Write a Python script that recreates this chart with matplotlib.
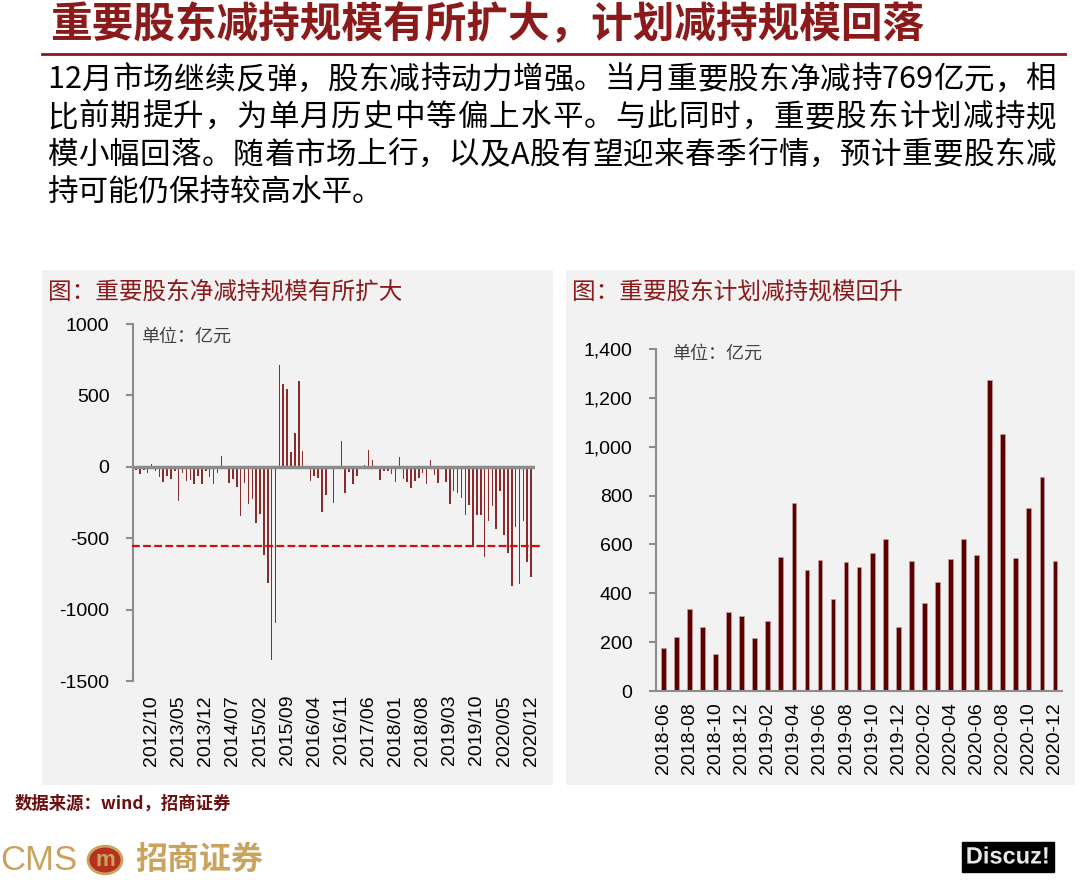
import matplotlib
matplotlib.use("Agg")
import matplotlib.pyplot as plt
from matplotlib.patches import Rectangle, Circle
from matplotlib.ticker import FuncFormatter
import matplotlib.patheffects as pe

plt.rcParams['font.family'] = ['Noto Sans CJK SC', 'DejaVu Sans']
plt.rcParams['axes.unicode_minus'] = False

# ---- data ----
# left: net reduction by key shareholders, monthly 2012/06 - 2020/12 (100 mn yuan)
net_values = [
    -23, -47, -19, -40, 19, -28, -70, -105, -65, -86,
    -28, -242, -42, -98, -93, -121, -63, -121, -28, -70,
    -121, -42, 75, -5, -110, -84, -140, -345, -110, -261,
    -226, -396, -333, -617, -815, -1351, -1095, 715, 578, 548,
    105, 240, 599, 112, -3, -100, -63, -75, -319, -198,
    -12, -256, -17, 180, -180, -33, -117, -63, -16, 12,
    117, 49, -5, -93, -28, -30, -47, -105, 70, -82,
    -103, -147, -98, -75, -40, -117, 51, -58, -111, -14,
    -105, -261, -168, -182, -221, -340, -266, -559, -336, -336,
    -629, -380, -275, -436, -170, -478, -603, -834, -420, -820,
    -377, -669, -769,
]
net_start = (2012, 6)
net_tick_labels = ["2012/10", "2013/05", "2013/12", "2014/07", "2015/02",
                   "2015/09", "2016/04", "2016/11", "2017/06", "2018/01",
                   "2018/08", "2019/03", "2019/10", "2020/05", "2020/12"]
net_ref_line = -555

# right: planned reduction, monthly 2018-06 - 2020-12 (100 mn yuan)
plan_months = ["2018-06", "2018-07", "2018-08", "2018-09", "2018-10", "2018-11",
               "2018-12", "2019-01", "2019-02", "2019-03", "2019-04", "2019-05",
               "2019-06", "2019-07", "2019-08", "2019-09", "2019-10", "2019-11",
               "2019-12", "2020-01", "2020-02", "2020-03", "2020-04", "2020-05",
               "2020-06", "2020-07", "2020-08", "2020-09", "2020-10", "2020-11",
               "2020-12"]
plan_values = [177, 222, 337, 263, 153, 322, 305, 217, 286, 547,
               770, 496, 537, 376, 529, 508, 564, 624, 264, 533,
               360, 447, 541, 622, 555, 1273, 1051, 545, 748, 878, 534]

title = "重要股东减持规模有所扩大，计划减持规模回落"
para_lines = [
    "12月市场继续反弹，股东减持动力增强。当月重要股东净减持769亿元，相",
    "比前期提升，为单月历史中等偏上水平。与此同时，重要股东计划减持规",
    "模小幅回落。随着市场上行，以及A股有望迎来春季行情，预计重要股东减",
    "持可能仍保持较高水平。",
]

W, H = 1080, 880
fig = plt.figure(figsize=(W / 100, H / 100), dpi=100)
fig.patch.set_facecolor("white")
renderer = fig.canvas.get_renderer()


def fx(x):
    return x / W


def fy(y):
    return 1 - y / H


def box(x0, y0, x1, y1):
    return [fx(x0), fy(y1), fx(x1) - fx(x0), fy(y0) - fy(y1)]


def justified(line, x0, x1, y, size):
    # draw a line char by char, spread evenly between x0 and x1
    widths = []
    for ch in line:
        t = fig.text(0, 0, ch, fontsize=size)
        widths.append(t.get_window_extent(renderer).width)
        t.remove()
    gap = (x1 - x0 - sum(widths)) / max(len(line) - 1, 1)
    x = x0
    for ch, w in zip(line, widths):
        fig.text(fx(x), fy(y), ch, fontsize=size, color="black", va="center", ha="left")
        x += w + gap


dark_red = "#8b1a1a"
gray = "#8c8c8c"
num_font = "Liberation Sans"

# header
fig.text(fx(50), fy(25), title, fontsize=30, fontweight="bold", color=dark_red,
         va="center", ha="left")
fig.add_artist(plt.Line2D([fx(42), fx(1065)], [fy(54), fy(54)], color=dark_red, lw=2))
for i, line in enumerate(para_lines):
    y = 80 + i * 37.5
    if i < len(para_lines) - 1:
        justified(line, 47, 1056, y, 22)
    else:
        fig.text(fx(47), fy(y), line, fontsize=22, color="black", va="center", ha="left")

# panel backgrounds
fig.add_artist(Rectangle((fx(42), fy(785)), fx(553) - fx(42), fy(270) - fy(785),
                         transform=fig.transFigure, facecolor="#f2f2f2", edgecolor="none", zorder=0))
fig.add_artist(Rectangle((fx(566), fy(785)), fx(1075) - fx(566), fy(270) - fy(785),
                         transform=fig.transFigure, facecolor="#f2f2f2", edgecolor="none", zorder=0))
fig.text(fx(48), fy(292), "图：重要股东净减持规模有所扩大", fontsize=17, color=dark_red, va="center")
fig.text(fx(572), fy(292), "图：重要股东计划减持规模回升", fontsize=17, color=dark_red, va="center")

# ---- left chart ----
ax1 = fig.add_axes(box(133, 324, 535, 681))
ax1.set_facecolor("none")
n = len(net_values)
xs = list(range(n))
ax1.bar(xs, net_values, width=0.4, color="#8b2a2a", zorder=2)
ax1.axhline(0, xmin=0, xmax=0.995, color=gray, lw=2.5, zorder=3)
ax1.plot([-1.0, n + 1.5], [net_ref_line, net_ref_line], color="#d01010", lw=1.6,
         ls=(0, (3.5, 1.5)), clip_on=False, zorder=4)
ax1.set_xlim(-0.8, n)
ax1.set_ylim(-1500, 1000)
ax1.set_yticks([-1500, -1000, -500, 0, 500, 1000])
for s in ["top", "right", "bottom"]:
    ax1.spines[s].set_visible(False)
ax1.spines["left"].set_color(gray)
ax1.spines["left"].set_linewidth(1.5)
ax1.tick_params(axis="y", length=5, color=gray, width=1.5, labelsize=14, pad=12)
tick_pos = []
for lab in net_tick_labels:
    yy, mm = int(lab[:4]), int(lab[5:])
    tick_pos.append((yy - net_start[0]) * 12 + mm - net_start[1])
ax1.set_xticks(tick_pos)
ax1.set_xticklabels(net_tick_labels, rotation=90)
ax1.tick_params(axis="x", length=0, labelsize=14, pad=10)
for t in ax1.get_xticklabels() + ax1.get_yticklabels():
    t.set_fontfamily(num_font)
ax1.text(0.02, 0.965, "单位：亿元", transform=ax1.transAxes, fontsize=13,
         color="#404040", va="center")

# ---- right chart ----
ax2 = fig.add_axes(box(656, 349, 1062, 691))
ax2.set_facecolor("none")
px = list(range(len(plan_values)))
ax2.bar(px, plan_values, width=0.36, color="#5e0000", edgecolor="#c9a8a8",
        linewidth=0.4, zorder=2)
ax2.set_xlim(-0.56, len(plan_values) - 0.46)
ax2.set_ylim(0, 1400)
ax2.set_yticks(range(0, 1401, 200))
ax2.yaxis.set_major_formatter(FuncFormatter(lambda v, p: f"{int(v):,}"))
for s in ["top", "right"]:
    ax2.spines[s].set_visible(False)
for s in ["left", "bottom"]:
    ax2.spines[s].set_color(gray)
    ax2.spines[s].set_linewidth(1.5)
ax2.tick_params(axis="y", length=5, color=gray, width=1.5, labelsize=14, pad=12)
ax2.set_xticks(px[::2])
ax2.set_xticklabels(plan_months[::2], rotation=90)
ax2.tick_params(axis="x", length=0, labelsize=14, pad=8)
for t in ax2.get_xticklabels() + ax2.get_yticklabels():
    t.set_fontfamily(num_font)
ax2.text(0.04, 0.985, "单位：亿元", transform=ax2.transAxes, fontsize=13,
         color="#404040", va="center")

# ---- footer ----
fig.text(fx(15), fy(804), "数据来源：wind，招商证券", fontsize=12.5, fontweight="bold",
         color="#6b0f0f", va="center")
gold = "#c9a45e"
fig.text(fx(0), fy(860), "CMS", fontsize=25, color=gold, va="center", family=num_font)
fig.add_artist(Circle((fx(105), fy(860)), 17 / W, transform=fig.transFigure,
                      facecolor="#b5321e", edgecolor=gold, lw=2))
fig.text(fx(105), fy(860), "m", fontsize=16, color=gold, va="center", ha="center",
         fontweight="bold", family=num_font)
fig.text(fx(135), fy(860), "招商证券", fontsize=23, color=gold, va="center", fontweight="bold")
fig.text(fx(1008), fy(857), "Discuz!", fontsize=17, color="#e8e8e8", va="center",
         ha="center", fontweight="bold", family=num_font,
         path_effects=[pe.withStroke(linewidth=2.5, foreground="black")],
         bbox=dict(boxstyle="square,pad=0.15", facecolor="black", edgecolor="black"))

fig.savefig("out.png", dpi=100)
